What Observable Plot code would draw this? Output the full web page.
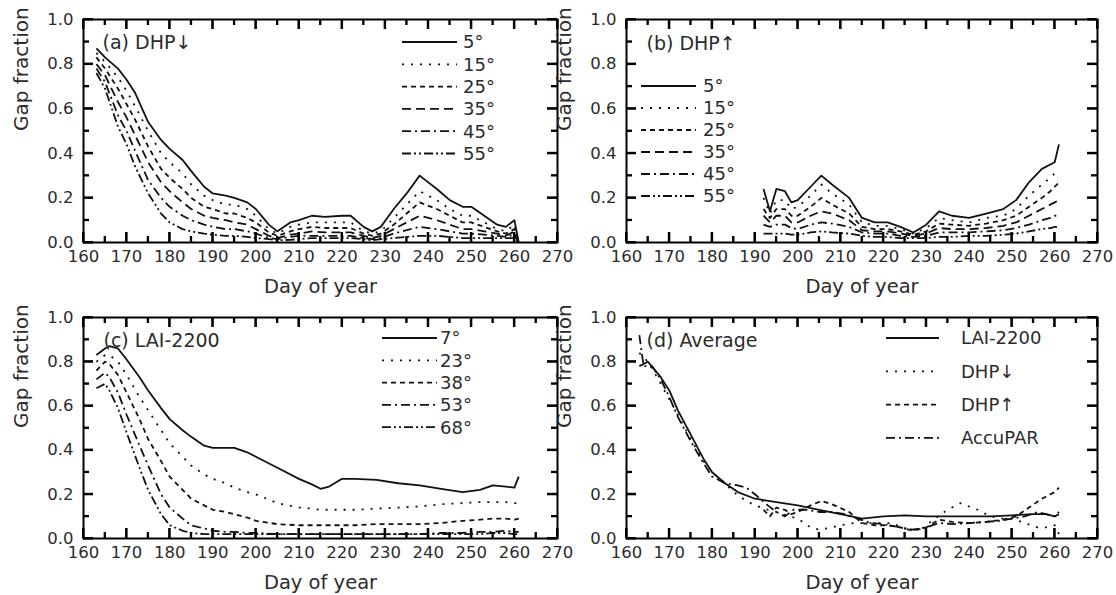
<!DOCTYPE html>
<html><head><meta charset="utf-8">
<script src="https://cdn.jsdelivr.net/npm/d3@7"></script>
<script src="https://cdn.jsdelivr.net/npm/@observablehq/plot@0.6"></script>
<style>
html,body{margin:0;padding:0;background:#fff;}
#wrap{position:relative;width:1116px;height:595px;overflow:hidden;background:#fff;}
</style></head><body><div id="wrap"></div>
<script>
// ---------- tick labels ----------
const xMajor = [160,170,180,190,200,210,220,230,240,250,260,270];
const xMinor = [165,175,185,195,205,215,225,235,245,255,265];
const yMajor = [0,0.2,0.4,0.6,0.8,1.0];
const yMinor = [0.1,0.3,0.5,0.7,0.9];

// ---------- (a) DHP down ----------
const aLabels = ["5°","15°","25°","35°","45°","55°"];
const aDays = [163,165,168,170,172,175,178,180,183,185,188,190,193,195,198,200,203,205,208,210,213,216,220,222,225,227,229,232,235,238,242,245,248,250,253,256,258,260,261];
const a5  = [.87,.83,.78,.73,.67,.54,.46,.42,.37,.32,.25,.22,.21,.20,.18,.15,.08,.05,.09,.10,.12,.115,.12,.12,.07,.05,.07,.15,.22,.30,.24,.19,.16,.16,.12,.08,.07,.10,.0];
const a15 = [.85,.81,.74,.68,.61,.50,.40,.36,.31,.26,.21,.19,.17,.17,.15,.12,.06,.04,.07,.08,.09,.09,.09,.09,.05,.04,.05,.11,.17,.23,.19,.15,.12,.12,.09,.06,.05,.08,.0];
const a25 = [.83,.78,.69,.62,.55,.43,.33,.29,.24,.20,.16,.15,.13,.13,.11,.09,.045,.03,.05,.06,.07,.065,.065,.065,.04,.03,.04,.08,.13,.18,.15,.12,.09,.09,.07,.05,.04,.06,.0];
const a35 = [.80,.75,.63,.56,.48,.36,.27,.23,.18,.15,.12,.11,.10,.09,.08,.06,.03,.02,.035,.04,.05,.045,.045,.045,.03,.02,.03,.06,.09,.12,.10,.08,.06,.06,.05,.04,.03,.05,.0];
const a45 = [.78,.72,.57,.50,.41,.28,.20,.16,.12,.10,.08,.07,.06,.06,.05,.04,.02,.015,.025,.03,.03,.03,.03,.03,.02,.015,.02,.04,.055,.07,.06,.05,.04,.04,.035,.03,.025,.035,.0];
const a55 = [.76,.69,.52,.44,.34,.22,.13,.09,.06,.05,.04,.035,.03,.03,.025,.02,.015,.01,.012,.015,.02,.02,.02,.02,.015,.01,.015,.02,.025,.03,.03,.025,.02,.02,.02,.02,.02,.02,.0];

// ---------- (b) DHP up ----------
const bLabels = ["5°","15°","25°","35°","45°","55°"];
const bDays = [192,193.5,195,197,198.5,200,203,205.5,208,212,215,218,221,224,227,230,233,236,240,244,248,251,254,257,259,260,261];
const b5  = [.24,.14,.24,.23,.18,.19,.25,.30,.26,.20,.11,.09,.09,.07,.045,.08,.14,.12,.11,.13,.15,.19,.27,.33,.35,.36,.44];
const b15 = [.20,.13,.19,.19,.15,.16,.21,.26,.22,.17,.09,.075,.075,.06,.04,.065,.11,.10,.09,.11,.12,.15,.21,.26,.29,.31,.33];
const b25 = [.15,.11,.15,.15,.12,.12,.16,.20,.17,.13,.07,.06,.06,.05,.035,.05,.085,.08,.075,.085,.10,.12,.16,.20,.23,.25,.27];
const b35 = [.12,.09,.12,.12,.09,.09,.12,.14,.13,.10,.055,.05,.05,.04,.03,.04,.065,.06,.06,.065,.075,.09,.12,.15,.17,.18,.19];
const b45 = [.08,.07,.08,.08,.065,.06,.08,.09,.085,.07,.045,.04,.04,.03,.025,.03,.045,.045,.045,.05,.055,.065,.08,.10,.11,.12,.12];
const b55 = [.04,.04,.04,.04,.035,.035,.045,.05,.045,.04,.03,.025,.025,.02,.02,.02,.025,.025,.03,.03,.035,.04,.05,.06,.065,.07,.07];

// ---------- (c) LAI-2200 ----------
const cLabels = ["7°","23°","38°","53°","68°"];
const cDays = [163,165,166,168,170,173,175,178,180,183,185,188,190,193,195,198,200,205,210,213,215,217,220,223,228,233,238,243,248,252,255,258,260,261];
const c7  = [.83,.86,.87,.86,.81,.73,.67,.59,.54,.49,.46,.42,.41,.41,.41,.39,.37,.32,.27,.245,.225,.235,.27,.27,.265,.25,.24,.225,.21,.22,.24,.235,.23,.28];
const c23 = [.80,.83,.83,.80,.74,.64,.58,.49,.43,.37,.33,.29,.27,.25,.23,.21,.20,.16,.14,.135,.13,.13,.13,.13,.135,.14,.145,.155,.16,.165,.165,.165,.16,.16];
const c38 = [.76,.80,.79,.74,.66,.54,.45,.35,.28,.22,.18,.15,.13,.12,.11,.095,.08,.065,.06,.06,.06,.06,.06,.06,.065,.065,.065,.07,.08,.085,.09,.09,.085,.09];
const c53 = [.72,.75,.73,.66,.56,.42,.33,.20,.14,.09,.06,.045,.035,.03,.03,.025,.025,.02,.02,.02,.02,.02,.02,.02,.02,.02,.02,.025,.025,.03,.03,.035,.03,.03];
const c68 = [.68,.70,.67,.59,.48,.32,.22,.11,.06,.035,.025,.02,.02,.02,.02,.02,.02,.02,.02,.02,.02,.02,.02,.02,.02,.02,.02,.02,.02,.02,.025,.025,.02,.02];

// ---------- (d) Average ----------
const dLabels = ["LAI-2200","DHP↓","DHP↑","AccuPAR"];
const dLaiDays = [163,165,168,170,172,175,178,180,183,186,190,195,200,205,210,215,220,225,230,235,240,245,250,255,258,260,261];
const dLai = [.78,.80,.73,.67,.58,.47,.36,.30,.25,.21,.18,.165,.15,.13,.11,.09,.10,.105,.10,.10,.10,.10,.105,.11,.11,.10,.11];
const dDownDays = aDays;
const dDown = [.84,.80,.70,.63,.56,.45,.35,.30,.25,.21,.17,.15,.13,.12,.10,.09,.05,.04,.05,.06,.07,.07,.07,.07,.045,.04,.045,.09,.13,.16,.13,.10,.09,.09,.07,.05,.05,.06,.02];
const dUpDays = bDays;
const dUp = [.13,.10,.14,.13,.11,.12,.15,.17,.155,.12,.07,.06,.06,.05,.035,.05,.085,.075,.07,.075,.085,.10,.14,.18,.20,.21,.23];
const dAccDays = [163,164,166,168,170,172,175,178,180,183,186,188,190,193,195,197,199,202,205,208,211,214,217,220,224,227,230,233,236,240,244,247,250,253,256,258,260,261];
const dAcc = [.92,.78,.78,.72,.64,.55,.44,.34,.28,.25,.24,.23,.20,.15,.12,.10,.13,.13,.12,.12,.11,.09,.07,.065,.05,.04,.05,.07,.065,.07,.075,.08,.09,.10,.12,.11,.10,.12];

// ---------- styles ----------
const ink = "#000";
const txt = "#2b2b2b";
const FONT = "'DejaVu Sans', sans-serif";
const DASH = {
  solid: null,
  dot: "2,7",
  short: "5,4",
  dash: "9,5",
  dashdot: "9,4,2,4",
  dashdotdot: "9,3,2,3,2,3"
};
const dashOrder6 = [DASH.solid, DASH.dot, DASH.short, DASH.dash, DASH.dashdot, DASH.dashdotdot];
const dashOrder5 = [DASH.solid, DASH.dot, DASH.short, DASH.dashdot, DASH.dashdotdot];
const dashOrderD = [DASH.solid, DASH.dot, DASH.short, DASH.dashdot];

const wrap = document.getElementById("wrap");

function rows(days, values) { return days.map((d, i) => ({day: d, v: values[i]})); }

function makePanel(cfg) {
  const {left, top, width, height, ml, mr, mt, mb, series, title, titleDx, titleDy, legend} = cfg;
  const fw = width - ml - mr;   // frame width
  const fh = height - mt - mb;  // frame height
  const TM = 10, Tm = 6;        // tick lengths
  const marks = [];
  series.forEach(s => {
    marks.push(Plot.line(rows(s.days, s.values), {
      x: "day", y: "v", stroke: "#111", strokeWidth: 1.8,
      strokeDasharray: s.dash || undefined, strokeLinecap: "butt", strokeLinejoin: "round"
    }));
  });
  marks.push(Plot.frame({stroke: ink, strokeWidth: 2}));
  // inward ticks on four sides (through the x / y scales)
  marks.push(Plot.tickX(xMajor, {x: d => d, insetTop: fh - TM, stroke: ink, strokeWidth: 2}));
  marks.push(Plot.tickX(xMinor, {x: d => d, insetTop: fh - Tm, stroke: ink, strokeWidth: 1.8}));
  marks.push(Plot.tickX(xMajor, {x: d => d, insetBottom: fh - TM, stroke: ink, strokeWidth: 2}));
  marks.push(Plot.tickX(xMinor, {x: d => d, insetBottom: fh - Tm, stroke: ink, strokeWidth: 1.8}));
  marks.push(Plot.tickY(yMajor, {y: d => d, insetRight: fw - TM, stroke: ink, strokeWidth: 2}));
  marks.push(Plot.tickY(yMinor, {y: d => d, insetRight: fw - Tm, stroke: ink, strokeWidth: 1.8}));
  marks.push(Plot.tickY(yMajor, {y: d => d, insetLeft: fw - TM, stroke: ink, strokeWidth: 2}));
  marks.push(Plot.tickY(yMinor, {y: d => d, insetLeft: fw - Tm, stroke: ink, strokeWidth: 1.8}));
  // tick labels
  marks.push(Plot.axisX(xMajor, {anchor: "bottom", tickSize: 0, tickPadding: 8, fontSize: 16.5, fill: txt, label: null}));
  marks.push(Plot.axisY(yMajor, {anchor: "left", tickSize: 0, tickPadding: 10, tickFormat: d3.format(".1f"), fontSize: 16.5, fill: txt, label: null}));
  // axis titles
  marks.push(Plot.text(["Day of year"], {text: d => d, frameAnchor: "bottom", dy: cfg.xlabDy, fontSize: 19.5, fill: txt, lineAnchor: "middle"}));
  marks.push(Plot.text(["Gap fraction"], {text: d => d, frameAnchor: "left", dx: -62, rotate: -90, fontSize: 20, fill: txt, lineAnchor: "middle"}));
  // panel title
  marks.push(Plot.text([title], {text: d => d, frameAnchor: "top-left", dx: titleDx, dy: titleDy, textAnchor: "start", lineAnchor: "middle", fontSize: 19, fill: txt}));

  const svg = Plot.plot({
    width, height,
    marginLeft: ml, marginRight: mr, marginTop: mt, marginBottom: mb,
    x: {domain: [160, 270]},
    y: {domain: [0, 1]},
    style: `position:absolute;left:${left}px;top:${top}px;overflow:visible;font-family:${FONT};background:transparent;`,
    marks
  });

  // extra inward tick strokes positioned via Plot's own scales (explicit stroke per line)
  const sx = svg.scale("x"), sy = svg.scale("y");
  const X0 = ml, X1 = width - mr, Y0 = mt, Y1 = height - mb;
  const tg = d3.select(svg).append("g");
  const seg = (a, b, c, d, w) => tg.append("line").attr("x1", a).attr("y1", b).attr("x2", c).attr("y2", d)
    .attr("stroke", "#000").attr("stroke-width", w);
  xMajor.forEach(v => { const p = sx.apply(v); seg(p, Y1, p, Y1 - TM, 2); seg(p, Y0, p, Y0 + TM, 2); });
  xMinor.forEach(v => { const p = sx.apply(v); seg(p, Y1, p, Y1 - Tm, 1.8); seg(p, Y0, p, Y0 + Tm, 1.8); });
  yMajor.forEach(v => { const p = sy.apply(v); seg(X0, p, X0 + TM, p, 2); seg(X1, p, X1 - TM, p, 2); });
  yMinor.forEach(v => { const p = sy.apply(v); seg(X0, p, X0 + Tm, p, 1.8); seg(X1, p, X1 - Tm, p, 1.8); });

  // legend (layout only)
  const g = d3.select(svg).append("g").attr("font-family", FONT).attr("text-anchor", "start");
  legend.labels.forEach((lab, i) => {
    const y = mt + legend.y0 + i * legend.dy;
    g.append("line")
      .attr("x1", ml + legend.x1).attr("x2", ml + legend.x2)
      .attr("y1", y).attr("y2", y)
      .attr("stroke", "#111").attr("stroke-width", 1.8)
      .attr("stroke-dasharray", legend.dashes[i] || null);
    g.append("text")
      .attr("x", ml + legend.tx).attr("y", y)
      .attr("dy", "0.35em")
      .attr("text-anchor", "start")
      .attr("font-size", legend.fs || 18)
      .attr("fill", txt)
      .text(lab);
  });
  wrap.appendChild(svg);
}

// panel (a)
makePanel({
  left: 0, top: 0, width: 558, height: 297, ml: 83, mr: 1, mt: 19, mb: 55, xlabDy: 44,
  title: "(a) DHP↓", titleDx: 19, titleDy: 23,
  series: [a5, a15, a25, a35, a45, a55].map((v, i) => ({days: aDays, values: v, dash: dashOrder6[i]})),
  legend: {labels: aLabels, dashes: dashOrder6, x1: 319, x2: 374, tx: 380, y0: 23, dy: 22.3}
});
// panel (b)
makePanel({
  left: 558, top: 0, width: 558, height: 297, ml: 68, mr: 19, mt: 19, mb: 55, xlabDy: 44,
  title: "(b) DHP↑", titleDx: 20, titleDy: 24,
  series: [b5, b15, b25, b35, b45, b55].map((v, i) => ({days: bDays, values: v, dash: dashOrder6[i]})),
  legend: {labels: bLabels, dashes: dashOrder6, x1: 15, x2: 70, tx: 77, y0: 67, dy: 22}
});
// panel (c)
makePanel({
  left: 0, top: 297, width: 558, height: 298, ml: 83, mr: 1, mt: 20, mb: 57, xlabDy: 44,
  title: "(c) LAI-2200", titleDx: 20, titleDy: 23,
  series: [c7, c23, c38, c53, c68].map((v, i) => ({days: cDays, values: v, dash: dashOrder5[i]})),
  legend: {labels: cLabels, dashes: dashOrder5, x1: 299, x2: 354, tx: 357, y0: 21, dy: 22.3}
});
// panel (d)
makePanel({
  left: 558, top: 297, width: 558, height: 298, ml: 68, mr: 19, mt: 20, mb: 57, xlabDy: 44,
  title: "(d) Average", titleDx: 20, titleDy: 23,
  series: [
    {days: dLaiDays, values: dLai, dash: dashOrderD[0]},
    {days: dDownDays, values: dDown, dash: dashOrderD[1]},
    {days: dUpDays, values: dUp, dash: dashOrderD[2]},
    {days: dAccDays, values: dAcc, dash: dashOrderD[3]}
  ],
  legend: {labels: dLabels, dashes: dashOrderD, x1: 260, x2: 313, tx: 335, y0: 21, dy: 33.3}
});
</script>
</body></html>
